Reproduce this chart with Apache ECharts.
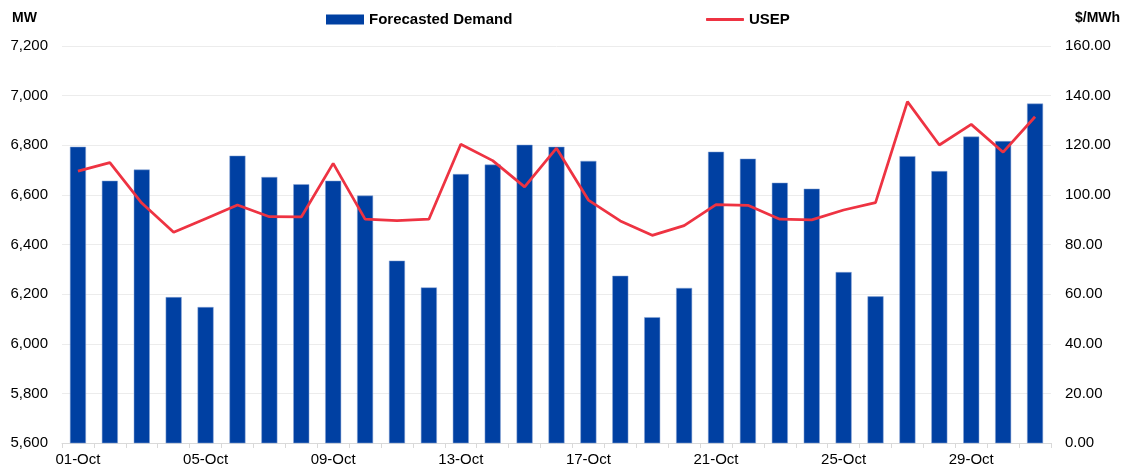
<!DOCTYPE html>
<html>
<head>
    <meta charset="utf-8">
    <title>Forecasted Demand and USEP</title>
    <script src="https://cdn.jsdelivr.net/npm/echarts@6/dist/echarts.min.js"></script>
</head>
<body style="margin:0">

    <div id="main" style="width: 1126px;height:472px;"></div>
    <script type="text/javascript">
        // October days
        var days = [];
        for (var d = 1; d <= 31; d++) {
            days.push((d < 10 ? '0' + d : '' + d) + '-Oct');
        }
        // Forecasted Demand (MW)
        var demand = [6794, 6657, 6702, 6188, 6148, 6758, 6672, 6643, 6657, 6597,
                      6335, 6227, 6684, 6722, 6802, 6794, 6737, 6274, 6107, 6225,
                      6774, 6746, 6649, 6625, 6289, 6191, 6756, 6696, 6835, 6817, 6968];
        // USEP ($/MWh)
        var usep = [109.6, 113.0, 96.7, 84.9, 90.4, 95.9, 91.2, 91.1, 112.7, 90.2,
                    89.6, 90.2, 120.4, 113.8, 103.2, 118.8, 97.9, 89.5, 83.7, 87.6,
                    96.1, 95.8, 90.2, 89.9, 93.9, 96.9, 137.6, 120.1, 128.4, 117.2, 131.5];

        var font = 'Arial, "Liberation Sans", sans-serif';
        var legendText = { fontSize: 15, fontWeight: 'bold', color: '#000', fontFamily: font };
        var myChart = echarts.init(document.getElementById('main'));
        var option = {
            animation: false,
            textStyle: { fontFamily: font },
            grid: { left: 62, right: 75, top: 46, bottom: 29 },
            legend: [
                {
                    data: [{ name: 'Forecasted Demand', icon: 'rect', itemStyle: { borderWidth: 0 } }],
                    left: 321, top: 7,
                    itemWidth: 38, itemHeight: 10, itemGap: 4,
                    textStyle: legendText
                },
                {
                    data: [{ name: 'USEP', icon: 'roundRect' }],
                    left: 701, top: 7,
                    itemWidth: 38, itemHeight: 3,
                    textStyle: legendText
                }
            ],
            graphic: [
                { type: 'text', left: 12, top: 11, style: { text: 'MW', font: 'bold 14px ' + font, fill: '#000' } },
                { type: 'text', left: 1075, top: 11, style: { text: '$/MWh', font: 'bold 14px ' + font, fill: '#000' } }
            ],
            xAxis: {
                type: 'category',
                data: days,
                boundaryGap: true,
                axisLine: { lineStyle: { color: '#d9d9d9' } },
                axisTick: { show: true, interval: 0, length: 5, lineStyle: { color: '#d9d9d9' } },
                axisLabel: { interval: 3, color: '#000', fontSize: 15, margin: 9 }
            },
            yAxis: [
                {
                    type: 'value',
                    min: 5600, max: 7200, interval: 200,
                    axisLine: { show: false },
                    axisTick: { show: false },
                    splitLine: { lineStyle: { color: '#ececec' } },
                    axisLabel: {
                        color: '#000', fontSize: 15, margin: 14,
                        formatter: function (v) { return v.toLocaleString('en-US'); }
                    }
                },
                {
                    type: 'value',
                    min: 0, max: 160, interval: 20,
                    axisLine: { show: false },
                    axisTick: { show: false },
                    splitLine: { show: false },
                    axisLabel: {
                        color: '#000', fontSize: 15, margin: 14,
                        formatter: function (v) { return v.toFixed(2); }
                    }
                }
            ],
            series: [
                {
                    name: 'Forecasted Demand',
                    type: 'bar',
                    data: demand,
                    barWidth: 16,
                    itemStyle: { color: '#0040a2', borderColor: '#8aa6d6', borderWidth: 0.5 }
                },
                {
                    name: 'USEP',
                    type: 'line',
                    yAxisIndex: 1,
                    data: usep,
                    symbol: 'none',
                    lineStyle: { color: '#ee3342', width: 2.75 },
                    itemStyle: { color: '#ee3342' }
                }
            ]
        };
        myChart.setOption(option);
    </script>
</body>
</html>
